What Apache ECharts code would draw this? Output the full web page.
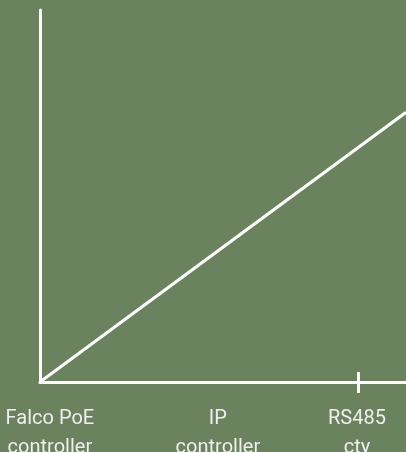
<!DOCTYPE html>
<html>
<head>
<meta charset="utf-8">
<script src="https://cdn.jsdelivr.net/npm/echarts@6/dist/echarts.min.js"></script>
<style>html,body{margin:0;padding:0;background:#6b825e;}#c{width:406px;height:452px;}</style>
</head>
<body>
<div id="c"></div>
<script>
// Category labels and their positions along the horizontal scale (0–100)
const categories = ['Falco PoE\ncontroller', 'IP\ncontroller', 'RS485\ncty'];
const categoryPositions = [2.7, 48.6, 86.6];
const tickPositions = [87.0];
// Line series: [x, y] values
const lineX = [0, 100];
const lineY = [0, 72.5];

const chart = echarts.init(document.getElementById('c'), null, {renderer: 'canvas'});
const lineData = lineX.map((x, i) => [x, lineY[i]]);
const axisColor = '#ffffff';
chart.setOption({
  backgroundColor: '#6b825e',
  animation: false,
  grid: {left: 40, right: 0, top: 10, bottom: 70, containLabel: false, outerBoundsMode: 'none'},
  xAxis: [{
    type: 'value', min: 0, max: 100, position: 'bottom',
    splitLine: {show: false},
    axisLine: {show: true, lineStyle: {color: axisColor, width: 3}},
    axisTick: {show: true, customValues: tickPositions, length: 11, lineStyle: {color: axisColor, width: 3}},
    axisLabel: {
      show: true, customValues: categoryPositions, margin: 22,
      formatter: v => { const i = categoryPositions.indexOf(v); return i >= 0 ? categories[i] : ''; },
      color: '#eeeeee', fontFamily: 'Roboto', fontSize: 20, lineHeight: 29, align: 'center'
    }
  }, {
    type: 'value', min: 0, max: 100, position: 'bottom', offset: 0,
    splitLine: {show: false},
    axisLine: {show: false},
    axisTick: {show: true, inside: true, customValues: tickPositions, length: 10, lineStyle: {color: axisColor, width: 3}},
    axisLabel: {show: false}
  }],
  yAxis: {
    type: 'value', min: 0, max: 100,
    splitLine: {show: false},
    axisLine: {show: true, lineStyle: {color: axisColor, width: 3}},
    axisTick: {show: false},
    axisLabel: {show: false}
  },
  series: [{
    type: 'line', xAxisIndex: 0, data: lineData, showSymbol: false, symbol: 'none',
    lineStyle: {color: '#ffffff', width: 3}, z: 1
  }]
});
</script>
</body>
</html>
